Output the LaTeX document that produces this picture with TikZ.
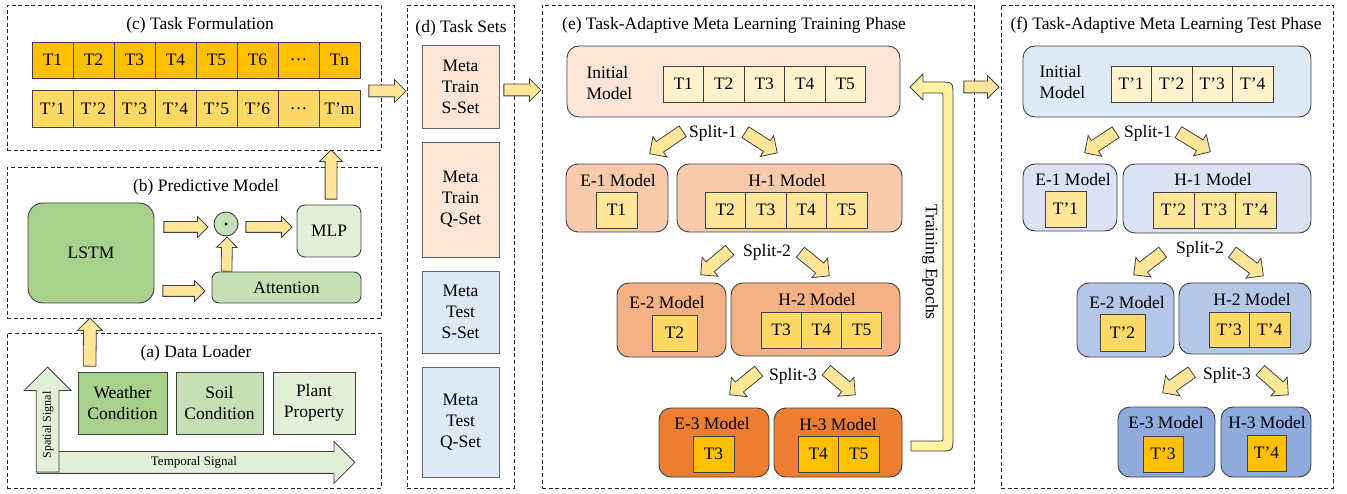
\documentclass[tikz,border=0pt]{standalone}
\usepackage{fontspec}
\setmainfont{Liberation Serif}
\usetikzlibrary{shapes.arrows, positioning, calc}

\definecolor{taskA}{HTML}{FFC000}
\definecolor{taskB}{HTML}{FFD966}
\definecolor{taskC}{HTML}{FFE699}
\definecolor{taskD}{HTML}{FFF2CC}
\definecolor{greenA}{HTML}{A9D18E}
\definecolor{greenB}{HTML}{C5E0B4}
\definecolor{greenC}{HTML}{E2F0D9}
\definecolor{peachA}{HTML}{FBE5D6}
\definecolor{peachB}{HTML}{F8CBAD}
\definecolor{peachC}{HTML}{F4B183}
\definecolor{peachD}{HTML}{ED7D31}
\definecolor{blueA}{HTML}{DEEBF7}
\definecolor{blueB}{HTML}{DAE3F3}
\definecolor{blueC}{HTML}{B4C7E7}
\definecolor{blueD}{HTML}{8FAADC}
\definecolor{arrowfill}{HTML}{FFE699}
\definecolor{epochfill}{HTML}{FFF2A0}
\definecolor{edge}{HTML}{404040}

\newcommand{\bigfont}{\fontsize{17.5}{21}\selectfont}

% block arrow from one point to another
\newcommand{\fatarrow}[3][]{%
  \path #2 coordinate (fatS) #3 coordinate (fatT);
  \path let \p1=($(fatT)-(fatS)$), \n1={atan2(\y1,\x1)}, \n2={veclen(\x1,\y1)} in
    node[fat, #1, rotate=\n1, minimum height=\n2, anchor=tail] at (fatS) {};%
}

% a row of task cells
\newcommand{\taskrow}[4][]{%
  \foreach \t [count=\i, remember=\i as \j (initially 0)] in {#4} {
    \ifnum\i=1
      \node[cell, #1, anchor=west] (#2\i) at #3 {\t};
    \else
      \node[cell, #1, right=0pt of #2\j] (#2\i) {\t};
    \fi
  }%
}

\begin{document}
\begin{tikzpicture}
  [
    x=1pt, y=-1pt,
    every node/.style={font=\bigfont},
    panel/.style={draw=black!85, line width=0.9pt, dash pattern=on 4pt off 2.6pt, inner sep=0pt},
    cell/.style={draw=edge, line width=0.9pt, minimum width=40.5pt, minimum height=36pt, inner sep=0pt, outer sep=0pt},
    model/.style={draw=edge, line width=0.9pt, rounded corners=12pt, inner sep=0pt},
    source/.style={draw=edge, line width=0.9pt, minimum height=62pt, align=center, inner sep=0pt},
    setbox/.style={draw=black!60, line width=0.9pt, minimum width=77pt, align=center, inner sep=0pt},
    fat/.style={single arrow, draw=edge, fill=arrowfill, line width=0.8pt, inner xsep=0pt, inner ysep=5.5pt, single arrow head extend=5.5pt},
    slant/.style={inner ysep=6pt, single arrow head extend=6pt},
    thin/.style={inner ysep=5pt, single arrow head extend=5pt}
  ]
  \useasboundingbox (0,0) rectangle (1347,494);

  % (c) task formulation
  \node[panel, minimum width=374pt, minimum height=145pt] (pc) at (194,77.5) {};
  \node (ttlc) at (200,25) {(c) Task Formulation};
  \taskrow[fill=taskA, minimum width=41pt]{ta}{(32,60)}{T1,T2,T3,T4,T5,T6,…,Tn}
  \taskrow[fill=taskB, minimum width=41pt, minimum height=37pt]{tb}{(32,108.5)}{T’1,T’2,T’3,T’4,T’5,T’6,…,T’m}

  % (b) predictive model
  \node[panel, minimum width=374pt, minimum height=151pt] (pb) at (194,242.5) {};
  \node (ttlb) at (206,187) {(b) Predictive Model};
  \node[model, fill=greenA, rounded corners=15pt, minimum width=126pt, minimum height=100pt] (lstm) at (91,253) {LSTM};
  \node[circle, draw=edge, line width=0.9pt, fill=greenB, minimum size=24pt, inner sep=0pt] (dot) at (226,224) {};
  \fill (dot) circle (1.6pt);
  \node[model, fill=greenC, rounded corners=8pt, minimum width=64pt, minimum height=52pt] (mlp) at (329,231) {MLP};
  \node[model, fill=greenB, rounded corners=7pt, minimum width=149pt, minimum height=31pt] (att) at (286.5,287.5) {Attention};
  \fatarrow[thin]{($(lstm.east)+(9,-26)$)}{($(dot.west)+(-6,3)$)}
  \fatarrow[thin]{($(dot.east)+(7,3)$)}{($(mlp.west)+(-5,-4)$)}
  \fatarrow[thin]{($(lstm.east)+(8,38)$)}{($(att.west)+(-7,3.5)$)}
  \fatarrow[thin]{($(att.north west)+(15,0)$)}{($(dot.south)+(1,1)$)}
  \fatarrow{($(mlp.north)+(2,-5)$)}{($(pc.south)+(137,0)$)}

  % (a) data loader
  \node[panel, minimum width=374pt, minimum height=155pt] (pa) at (194,410.5) {};
  \node (ttla) at (196,353) {(a) Data Loader};
  \node[source, fill=greenA, minimum width=89pt] (weather) at (122.5,403) {Weather\\Condition};
  \node[source, fill=greenB, minimum width=87pt] (soil) at (219.5,403) {Soil\\Condition};
  \node[source, fill=greenC, minimum width=82pt] (plant) at (314,403) {Plant\\Property};
  \fatarrow[fill=greenC, inner ysep=10.5pt, single arrow head extend=10pt]{($(pa.south west)+(30,-26)$)}{($(pa.south west)+(348,-26)$)}
  \fatarrow[fill=greenC, inner ysep=11pt, single arrow head extend=12pt]{($(pa.south west)+(41,-16)$)}{($(pa.south west)+(41,-121)$)}
  \node[rotate=90, font=\fontsize{12}{14}\selectfont] (spatial) at (48,425) {Spatial Signal};
  \node[font=\fontsize{13}{15}\selectfont] (temporal) at (194,462) {Temporal Signal};
  \fatarrow[slant]{($(weather.north west)+(12,-5)$)}{($(lstm.south)+(-1,15)$)}

  % (d) task sets
  \node[panel, minimum width=107pt, minimum height=483pt] (pd) at (460.5,246.5) {};
  \node (ttld) at (461,28) {(d) Task Sets};
  \node[setbox, fill=peachA, minimum height=83pt] (trs) at (460.5,86.5) {Meta\\Train\\S-Set};
  \node[setbox, fill=peachA, minimum height=115pt] (trq) at (460.5,199.5) {Meta\\Train\\Q-Set};
  \node[setbox, fill=blueA, minimum height=82pt] (tes) at (460.5,312) {Meta\\Test\\S-Set};
  \node[setbox, fill=blueA, minimum height=110pt] (teq) at (460.5,422) {Meta\\Test\\Q-Set};
  \fatarrow{($(pc.east)+(-13,13.5)$)}{($(pc.east)+(24,13.5)$)}
  \fatarrow{($(trs.east)+(4,3.5)$)}{($(trs.east)+(41,3.5)$)}

  % (e) training phase
  \node[panel, minimum width=432pt, minimum height=483pt] (pe) at (758,246.5) {};
  \node (ttle) at (734,25) {(e) Task-Adaptive Meta Learning Training Phase};
  \node[model, fill=peachA, minimum width=333pt, minimum height=71pt] (einit) at (733.5,81.5) {};
  \node[align=left, anchor=west] (einitlab) at (583,83) {Initial\\Model};
  \taskrow[fill=taskD]{ei}{(663,84)}{T1,T2,T3,T4,T5}
  \node (es1) at (713,133) {Split-1};
  \node[model, fill=peachB, minimum width=102pt, minimum height=68pt] (ee1) at (617,198) {};
  \node (ee1lab) at (618,181) {E-1 Model};
  \taskrow[fill=taskC, minimum width=41pt]{ea}{(596,210)}{T1}
  \node[model, fill=peachB, minimum width=225pt, minimum height=68pt] (eh1) at (789.5,198) {};
  \node (eh1lab) at (787,181) {H-1 Model};
  \taskrow[fill=taskC]{eb}{(705,210)}{T2,T3,T4,T5}
  \fatarrow[slant]{($(es1)+(-30,-2)$)}{($(ee1.north)+(33,-10)$)}
  \fatarrow[slant]{($(es1)+(32,-1)$)}{($(eh1.north)+(-12.5,-11)$)}
  \node (es2) at (767,252) {Split-2};
  \node[model, fill=peachC, minimum width=109pt, minimum height=74pt] (ee2) at (671.5,320) {};
  \node (ee2lab) at (667,303) {E-2 Model};
  \taskrow[fill=taskB, minimum width=45pt]{ec}{(652,333)}{T2}
  \node[model, fill=peachC, minimum width=169pt, minimum height=73pt] (eh2) at (815.5,319.5) {};
  \node (eh2lab) at (817,300) {H-2 Model};
  \taskrow[fill=taskB, minimum width=40.3pt]{ed}{(761,330)}{T3,T4,T5}
  \fatarrow[slant]{($(es2)+(-37,-2)$)}{($(ee2.north)+(29.5,-8)$)}
  \fatarrow[slant]{($(es2)+(33,0)$)}{($(eh2.north)+(13.5,-7)$)}
  \node (es3) at (793,376) {Split-3};
  \node[model, fill=peachD, minimum width=110pt, minimum height=69pt] (ee3) at (714,442.5) {};
  \node (ee3lab) at (712,424) {E-3 Model};
  \taskrow[fill=taskA, minimum width=41pt]{ee}{(693,454)}{T3}
  \node[model, fill=peachD, minimum width=128pt, minimum height=69pt] (eh3) at (838,442.5) {};
  \node (eh3lab) at (838,425) {H-3 Model};
  \taskrow[fill=taskA]{ef}{(798,454)}{T4,T5}
  \fatarrow[slant]{($(es3)+(-34,-5)$)}{($(ee3.north)+(16,-13)$)}
  \fatarrow[slant]{($(es3)+(33,-6)$)}{($(eh3.north)+(17,-13)$)}
  % epochs loop back
  \draw[draw=edge, fill=epochfill, line width=0.8pt] (911,451) -- (939,451) .. controls (953,451) .. (953,437)
    -- (953,96) .. controls (953,82) .. (939,82) -- (923,82) -- (923,74) -- (910,87) -- (923,100) -- (923,93)
    -- (939,93) .. controls (943,93) .. (943,97) -- (943,437) .. controls (943,441) .. (939,441) -- (911,441) -- cycle;
  \node[rotate=-90] (epochs) at (930,262) {Training Epochs};

  % (f) test phase
  \node[panel, minimum width=332pt, minimum height=483pt] (pf) at (1167,246.5) {};
  \node (ttlf) at (1166,25) {(f) Task-Adaptive Meta Learning Test Phase};
  \node[model, fill=blueA, minimum width=288pt, minimum height=71pt] (finit) at (1167,81.5) {};
  \node[align=left, anchor=west] (finitlab) at (1036,82) {Initial\\Model};
  \taskrow[fill=taskD]{fi}{(1111,84)}{T’1,T’2,T’3,T’4}
  \fatarrow{($(einit.east)+(63,5.5)$)}{($(finit.west)+(-24,5.5)$)}
  \node (fs1) at (1148,133) {Split-1};
  \node[model, fill=blueB, minimum width=94pt, minimum height=67pt] (fe1) at (1070,197.5) {};
  \node (fe1lab) at (1073,180) {E-1 Model};
  \taskrow[fill=taskC, minimum width=41pt]{fa}{(1045,209)}{T’1}
  \node[model, fill=blueB, minimum width=188pt, minimum height=69pt] (fh1) at (1217,198.5) {};
  \node (fh1lab) at (1213,180) {H-1 Model};
  \taskrow[fill=taskC, minimum width=41pt]{fb}{(1153,210)}{T’2,T’3,T’4}
  \fatarrow[slant]{($(fs1)+(-32,-1)$)}{($(fe1.north)+(15,-11)$)}
  \fatarrow[slant]{($(fs1)+(30,-1)$)}{($(fh1.north)+(-7,-12)$)}
  \node (fs2) at (1200,249) {Split-2};
  \node[model, fill=blueC, minimum width=97pt, minimum height=74pt] (fe2) at (1125.5,320) {};
  \node (fe2lab) at (1127,303) {E-2 Model};
  \taskrow[fill=taskB, minimum width=45pt, minimum height=37pt]{fc}{(1100,332.5)}{T’2}
  \node[model, fill=blueC, minimum width=132pt, minimum height=71pt] (fh2) at (1245,318.5) {};
  \node (fh2lab) at (1252,300) {H-2 Model};
  \taskrow[fill=taskB, minimum height=35pt]{fd}{(1209,329.5)}{T’3,T’4}
  \fatarrow[slant]{($(fs2)+(-37,3)$)}{($(fe2.north)+(8.5,-8)$)}
  \fatarrow[slant]{($(fs2)+(32,3)$)}{($(fh2.north)+(18,-7)$)}
  \node (fs3) at (1227,375) {Split-3};
  \node[model, fill=blueD, minimum width=97pt, minimum height=70pt] (fe3) at (1166.5,442) {};
  \node (fe3lab) at (1166,423) {E-3 Model};
  \taskrow[fill=taskA, minimum width=40pt]{fe}{(1143,454)}{T’3}
  \node[model, fill=blueD, minimum width=90pt, minimum height=70pt] (fh3) at (1266,442) {};
  \node (fh3lab) at (1267,423) {H-3 Model};
  \taskrow[fill=taskA, minimum width=39pt]{ff}{(1247,453)}{T’4}
  \fatarrow[slant]{($(fs3)+(-35,-3)$)}{($(fe3.north)+(-3.5,-14)$)}
  \fatarrow[slant]{($(fs3)+(33,-5)$)}{($(fh3.north)+(22,-12)$)}
\end{tikzpicture}
\end{document}
